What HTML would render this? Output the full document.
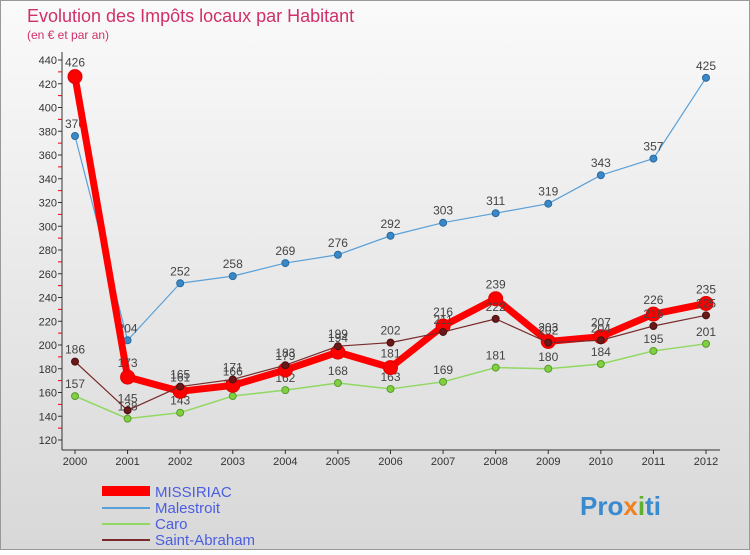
<!DOCTYPE html>
<html><head><meta charset="utf-8"><style>
body{margin:0;width:750px;height:550px;overflow:hidden;font-family:"Liberation Sans",sans-serif}
</style></head><body>
<svg width="750" height="550" xmlns="http://www.w3.org/2000/svg">
<defs><linearGradient id="bg" x1="0" y1="0" x2="0" y2="1"><stop offset="0" stop-color="#fafafa"/><stop offset="1" stop-color="#d8d8d8"/></linearGradient></defs>
<rect x="0.5" y="0.5" width="749" height="549" fill="url(#bg)" stroke="#999"/>
<text x="27" y="22" font-size="18" fill="#d0306a">Evolution des Impôts locaux par Habitant</text>
<text x="27" y="39" font-size="12" fill="#d0306a">(en € et par an)</text>
<g id="axes"></g>
<g id="series"></g>
<g font-size="15">
<rect x="102" y="486" width="48" height="10" fill="#ff0000"/>
<text x="155" y="497" fill="#4a5ee0">MISSIRIAC</text>
<rect x="102" y="507" width="48" height="2" fill="#5aa0d8"/>
<text x="155" y="513" fill="#4a5ee0">Malestroit</text>
<rect x="102" y="523" width="48" height="2" fill="#90d860"/>
<text x="155" y="529" fill="#4a5ee0">Caro</text>
<rect x="102" y="539" width="48" height="2" fill="#7a2a2a"/>
<text x="155" y="545" fill="#4a5ee0">Saint-Abraham</text>
</g>
<text x="580" y="515" font-size="26" font-weight="bold" fill="#3a8ad0">Pro<tspan fill="#f08020">x</tspan><tspan fill="#60b030">i</tspan>ti</text>
</svg>
<script>
const years=[2000,2001,2002,2003,2004,2005,2006,2007,2008,2009,2010,2011,2012];
const yTicks=[120,140,160,180,200,220,240,260,280,300,320,340,360,380,400,420,440];
const missiriac=[426,173,161,166,179,194,181,216,239,203,207,226,235];
const malestroit=[376,204,252,258,269,276,292,303,311,319,343,357,425];
const caro=[157,138,143,157,162,168,163,169,181,180,184,195,201];
const saintAbraham=[186,145,165,171,183,199,202,211,222,202,204,216,225];
const NS="http://www.w3.org/2000/svg";
const X=i=>75+i*(706-75)/12;
const Y=v=>60+(440-v)*1.1875;
function mk(tag,attrs,parent){const e=document.createElementNS(NS,tag);for(const k in attrs)e.setAttribute(k,attrs[k]);parent.appendChild(e);return e;}
const ax=document.getElementById('axes');
let l=mk('line',{x1:62,y1:52,x2:62,y2:450,stroke:'#333'},ax);


l=mk('line',{x1:62,y1:450,x2:720,y2:450,stroke:'#333'},ax);


yTicks.forEach(v=>{
 const t=mk('text',{x:57,y:Y(v)+4,'text-anchor':'end','font-size':11,fill:'#333'},ax);t.textContent=v;
 
 
 mk('line',{x1:58,x2:62,y1:Y(v),y2:Y(v),stroke:'#333'},ax);
 if(v<440){mk('line',{x1:58,x2:62,y1:Y(v+10),y2:Y(v+10),stroke:'#e00'},ax);}
});
years.forEach((yr,i)=>{
 const t=mk('text',{x:X(i),y:465,'text-anchor':'middle','font-size':11,fill:'#333'},ax);t.textContent=yr;
 
 
 mk('line',{x1:X(i),x2:X(i),y1:450,y2:454,stroke:'#333'},ax);
});
const sg=document.getElementById('series');
function draw(name,vals,color,w,r,dot,dotStroke,lblDy){
 const g=mk('g',{},sg);
 
 
 const p=mk('polyline',{points:vals.map((v,i)=>X(i)+','+Y(v)).join(' '),fill:'none',stroke:color,'stroke-width':w,'stroke-linejoin':'round'},g);
 
 
 vals.forEach((v,i)=>{
  const c=mk('circle',{cx:X(i),cy:Y(v),r:r,fill:dot,stroke:dotStroke,'stroke-width':1},g);
  
  
  const t=mk('text',{x:X(i),y:Y(v)+lblDy,'text-anchor':'middle','font-size':12,fill:'#444'},g);t.textContent=v;
  
  
 });
}
draw('malestroit',malestroit,'#5aa0d8',1.2,3.5,'#3a88c8','#2a6aa0',-8);
draw('caro',caro,'#90d860',1.5,3.5,'#80d040','#5a9a30',-8);
draw('missiriac',missiriac,'#ff0000',7,7,'#ff0000','#e00000',-10);
draw('saint-abraham',saintAbraham,'#7a2a2a',1.2,3.5,'#6a1818','#4a1010',-8);
</script>
</body></html>
